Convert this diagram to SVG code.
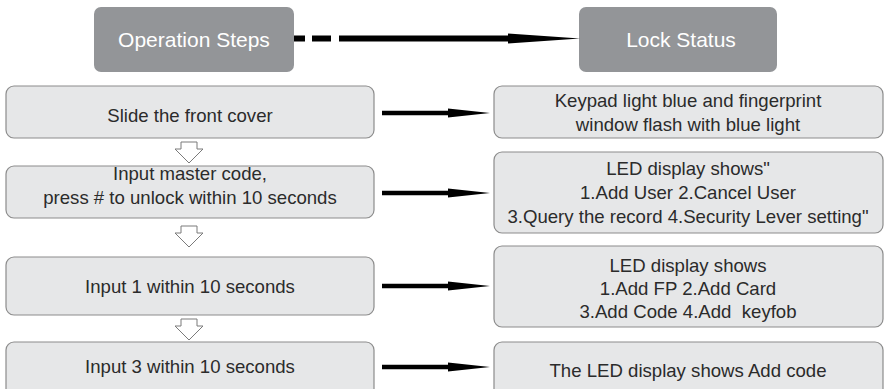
<svg xmlns="http://www.w3.org/2000/svg" width="884" height="389" viewBox="0 0 884 389">
<defs>
<style>
.hdr{fill:#939598;}
.hdrt{fill:#ffffff;font-family:"Liberation Sans",Arial,sans-serif;font-size:21px;text-anchor:middle;}
.box{fill:#e6e7e8;stroke:#8c8c8c;stroke-width:1.2;}
.t{fill:#2b2b2b;font-family:"Liberation Sans",Arial,sans-serif;font-size:18.6px;text-anchor:middle;white-space:pre;}
.arr{stroke:#000;stroke-width:4.5;fill:none;}
.down{fill:#fff;stroke:#7a7a7a;stroke-width:1;}
</style>
<marker id="headS" markerUnits="userSpaceOnUse" markerWidth="44" markerHeight="12" refX="0" refY="6" orient="auto" overflow="visible">
<path d="M0,1.5 L42,6 L0,10.5 Z" fill="#000"/>
</marker>
<marker id="headL" markerUnits="userSpaceOnUse" markerWidth="74" markerHeight="12" refX="0" refY="6" orient="auto" overflow="visible">
<path d="M0,1 L72,6 L0,11 Z" fill="#000"/>
</marker>
</defs>
<rect width="884" height="389" fill="#fff"/>

<g id="header-steps">
<rect class="hdr" x="94" y="7" width="200" height="65" rx="7"/>
<text class="hdrt" x="194" y="47">Operation Steps</text>
</g>
<g id="header-status">
<rect class="hdr" x="579" y="7" width="198" height="65" rx="7"/>
<text class="hdrt" x="681" y="47">Lock Status</text>
</g>

<g id="step1">
<rect class="box" x="6" y="86" width="368" height="52" rx="8"/>
<text class="t" x="190" y="122">Slide the front cover</text>
</g>
<g id="step2">
<rect class="box" x="6" y="166" width="368" height="52" rx="8"/>
<text class="t" x="190" y="180">Input master code,</text>
<text class="t" x="190" y="204">press # to unlock within 10 seconds</text>
</g>
<g id="step3">
<rect class="box" x="6" y="257" width="368" height="58" rx="8"/>
<text class="t" x="190" y="293">Input 1 within 10 seconds</text>
</g>
<g id="step4">
<rect class="box" x="6" y="342" width="368" height="60" rx="8"/>
<text class="t" x="190" y="373">Input 3 within 10 seconds</text>
</g>

<g id="status1">
<rect class="box" x="494" y="86" width="389" height="52" rx="8"/>
<text class="t" x="688" y="107">Keypad light blue and fingerprint</text>
<text class="t" x="688" y="131">window flash with blue light</text>
</g>
<g id="status2">
<rect class="box" x="494" y="152" width="389" height="81" rx="8"/>
<text class="t" x="688" y="175">LED display shows"</text>
<text class="t" x="688" y="199">1.Add User 2.Cancel User</text>
<text class="t" x="688" y="223">3.Query the record 4.Security Lever setting"</text>
</g>
<g id="status3">
<rect class="box" x="494" y="246" width="389" height="81" rx="8"/>
<text class="t" x="688" y="272">LED display shows</text>
<text class="t" x="688" y="295">1.Add FP 2.Add Card</text>
<text class="t" x="688" y="318" xml:space="preserve">3.Add Code 4.Add  keyfob</text>
</g>
<g id="status4">
<rect class="box" x="494" y="342" width="389" height="60" rx="8"/>
<text class="t" x="688" y="377">The LED display shows Add code</text>
</g>

<g id="connectors">
<line x1="294" y1="38.5" x2="305" y2="38.5" stroke="#000" stroke-width="6"/>
<line x1="312" y1="38.5" x2="331" y2="38.5" stroke="#000" stroke-width="6"/>
<line x1="339" y1="38.5" x2="508" y2="38.5" stroke="#000" stroke-width="6" marker-end="url(#headL)"/>
<line class="arr" x1="382" y1="113" x2="448" y2="113" marker-end="url(#headS)"/>
<line class="arr" x1="382" y1="193" x2="448" y2="193" marker-end="url(#headS)"/>
<line class="arr" x1="382" y1="286" x2="448" y2="286" marker-end="url(#headS)"/>
<line class="arr" x1="382" y1="367" x2="448" y2="367" marker-end="url(#headS)"/>
<polygon class="down" points="181,142 197,142 197,149 203,149 189,163 175,149 181,149"/>
<polygon class="down" points="181,226 197,226 197,233 203,233 189,247 175,233 181,233"/>
<polygon class="down" points="181,319 197,319 197,326 203,326 189,340 175,326 181,326"/>
</g>
</svg>
